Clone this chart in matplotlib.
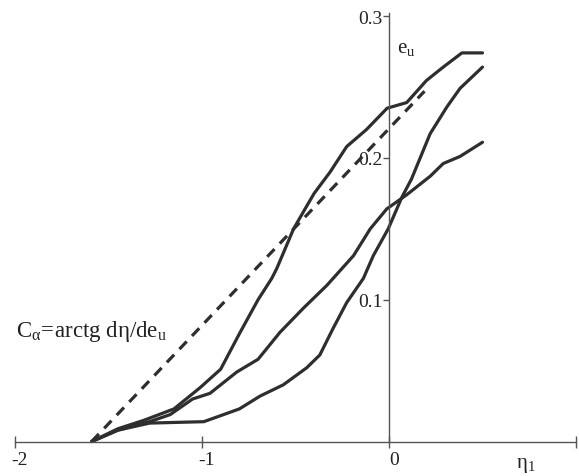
import matplotlib
matplotlib.use('Agg')
import matplotlib.pyplot as plt

plt.rcParams['font.family'] = ['Liberation Serif', 'DejaVu Serif']
plt.rcParams['mathtext.fontset'] = 'custom'
plt.rcParams['mathtext.rm'] = 'Liberation Serif'
plt.rcParams['mathtext.it'] = 'Liberation Serif:italic'

# ---- data ----
eta_a = [-1.59, -1.45, -1.31, -1.15, -1.01, -0.90, -0.80, -0.70, -0.627, -0.60, -0.51,
         -0.44, -0.40, -0.315, -0.226, -0.12, -0.01, 0.095, 0.20, 0.29, 0.39, 0.50]
e_a = [0.0, 0.009, 0.015, 0.023, 0.038, 0.051, 0.076, 0.100, 0.115, 0.122, 0.150,
       0.166, 0.175, 0.190, 0.208, 0.220, 0.235, 0.239, 0.2545, 0.264, 0.274, 0.274]

eta_b = [-1.59, -1.45, -1.28, -1.17, -1.05, -0.957, -0.814, -0.70, -0.583, -0.458,
         -0.333, -0.19, -0.10, -0.012, 0.095, 0.22, 0.29, 0.38, 0.50]
e_b = [0.0, 0.008, 0.014, 0.019, 0.030, 0.034, 0.049, 0.058, 0.077, 0.094,
       0.110, 0.131, 0.150, 0.164, 0.174, 0.187, 0.196, 0.201, 0.211]

eta_c = [-1.59, -1.45, -1.28, -0.99, -0.80, -0.69, -0.565, -0.44, -0.37, -0.298,
         -0.226, -0.137, -0.084, -0.004, 0.068, 0.12, 0.22, 0.31, 0.38, 0.50]
e_c = [0.0, 0.008, 0.013, 0.014, 0.023, 0.032, 0.040, 0.052, 0.061, 0.080,
       0.098, 0.115, 0.131, 0.150, 0.172, 0.185, 0.217, 0.236, 0.249, 0.264]

eta_dash = [-1.59, 0.19]
e_dash = [0.0, 0.247]

x_ticks = [-2, -1, 0, 1]
x_tick_labels = ['-2', '-1', '0']
y_ticks = [0.1, 0.2, 0.3]
y_tick_labels = ['0.1', '0.2', '0.3']

# ---- figure ----
fig = plt.figure(figsize=(5.79, 4.77), dpi=100)
ax = fig.add_axes([0, 0, 1, 1])
ax.set_xlim(-2.080, 1.016)
ax.set_ylim(-0.0243, 0.312)
ax.patch.set_visible(False)

axis_col = '#555555'
for side in ['top', 'right']:
    ax.spines[side].set_visible(False)
ax.spines['bottom'].set_position(('data', 0))
ax.spines['left'].set_position(('data', 0))
ax.spines['bottom'].set_bounds(-2, 1.0)
ax.spines['left'].set_bounds(0, 0.302)
for side in ['bottom', 'left']:
    ax.spines[side].set_color(axis_col)
    ax.spines[side].set_linewidth(1.0)

ax.set_xticks(x_ticks)
ax.set_xticklabels([])
ax.tick_params(axis='x', direction='inout', length=8, width=1.0, color=axis_col)
ax.set_yticks(y_ticks)
ax.set_yticklabels(y_tick_labels)
ax.tick_params(axis='y', direction='out', length=4.5, width=1.0, color=axis_col,
               pad=0.3, labelsize=14, labelcolor='#222222')

# x tick labels (slightly to the right of ticks as in the scan)
for xv, lab in zip(x_ticks, x_tick_labels):
    ax.annotate(lab, xy=(xv, 0), xytext=(5, -18), textcoords='offset pixels',
                ha='center', va='center', fontsize=14, color='#222222')

line_col = '#2e2e2e'
lw = 2.3
ax.plot(eta_a, e_a, color=line_col, lw=lw, solid_capstyle='round', solid_joinstyle='round')
ax.plot(eta_b, e_b, color=line_col, lw=lw, solid_capstyle='round', solid_joinstyle='round')
ax.plot(eta_c, e_c, color=line_col, lw=lw, solid_capstyle='round', solid_joinstyle='round')
ax.plot(eta_dash, e_dash, color=line_col, lw=lw, dashes=(3.3, 2.4))

# labels
ax.text(0.043, 0.278, r'$\mathrm{e_u}$', fontsize=15, color='#222222',
        ha='left', va='center')
ax.text(0.733, -0.0165, r'$\mathrm{η_1}$', fontsize=15, color='#222222',
        ha='center', va='center')
ax.text(-1.995, 0.0744, r'$\mathrm{C_{α}\!=\!arctg\ dη/de_u}$', fontsize=16.5,
        color='#222222', ha='left', va='baseline')

fig.savefig('out.png', dpi=100)
